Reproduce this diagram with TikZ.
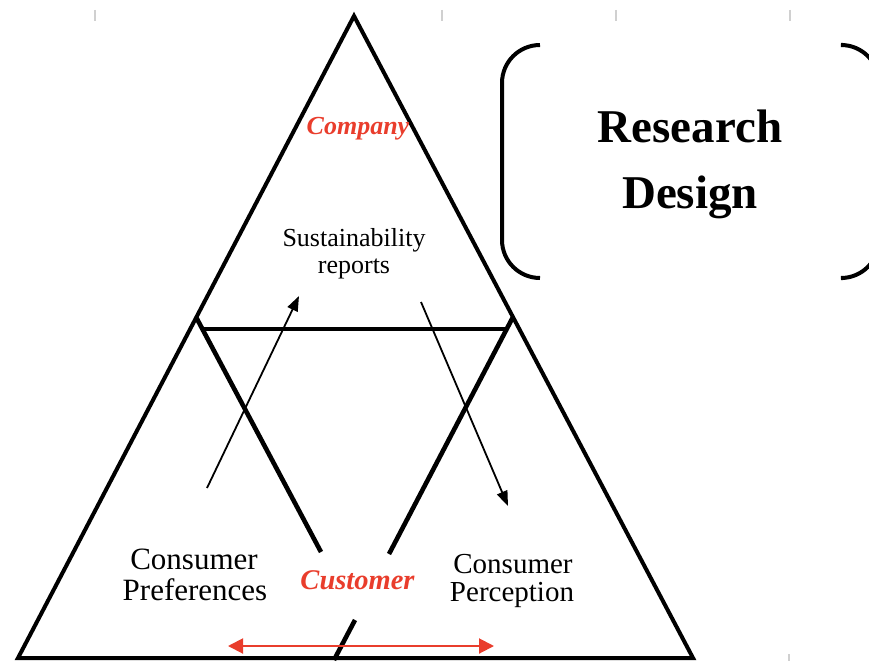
\documentclass[tikz,border=0pt]{standalone}
\usepackage{fontspec}
\setmainfont{Liberation Serif}
\usetikzlibrary{arrows.meta}
\definecolor{accent}{RGB}{233,61,44}
\definecolor{tickgray}{RGB}{208,208,208}
\begin{document}
\begin{tikzpicture}[x=1pt,y=-1pt,
  outer/.style={line width=4pt, line join=miter},
  inner/.style={line width=4.6pt},
  flow/.style={line width=1.8pt, -{Triangle[length=15pt,width=11pt]}},
  both/.style={draw=accent, line width=2pt, {Triangle[length=15pt,width=15pt]}-{Triangle[length=15pt,width=15pt]}},
  bracketline/.style={line width=4pt, rounded corners=38pt},
  tick/.style={draw=tickgray, line width=1.3pt},
  lbl/.style={inner sep=0pt, anchor=base},
  redlbl/.style={lbl, text=accent, font=\bfseries\itshape\fontsize{#1}{#1}\selectfont},
  plain/.style={lbl, font=\fontsize{#1}{#1}\selectfont},
  head/.style={lbl, font=\bfseries\fontsize{47}{47}\selectfont}]
\useasboundingbox (0,0) rectangle (869,661);
\clip (0,0) rectangle (869,661);
% ticks
\foreach \tx in {95,442,616,790} {\draw[tick] (\tx,10) -- (\tx,21);}
\draw[tick] (789,654) -- (789,661);
% outer triangle
\coordinate (apex) at (354,16);
\coordinate (bl) at (18,658);
\coordinate (br) at (693,658);
\draw[outer] (apex) -- (bl) -- (br) -- cycle;
% inner lines
\coordinate (L) at (196,317);
\coordinate (R) at (513,317);
\coordinate (Lend) at (321,552);
\coordinate (Rend) at (389,554);
\coordinate (Rlow) at (355,620);
\coordinate (Rbot) at (334,660);
\coordinate (hl) at (201,329);
\coordinate (hr) at (507,329);
\draw[inner] (L) -- (Lend);
\draw[inner] (R) -- (Rend);
\draw[inner] (Rlow) -- (Rbot);
\draw[inner] (hl) -- (hr);
% bracket
\draw[bracketline] (540,45) -- (502,45) -- (502,278) -- (540,278);
\draw[bracketline] (843,45) -- (879,45) -- (879,278) -- (843,278);
% texts
\node[redlbl=26] (company) at (358,134) {Company};
\node[plain=26] (sus1) at (354,246) {Sustainability};
\node[plain=26] (sus2) at (354,273) {reports};
\node[redlbl=28.5] (customer) at (357.5,589) {Customer};
\node[plain=31] (pref1) at (194,569) {Consumer};
\node[plain=31] (pref2) at (195,600) {Preferences};
\node[plain=29] (perc1) at (513,573) {Consumer};
\node[plain=29] (perc2) at (512,601) {Perception};
\node[head] (rd1) at (690,142) {Research};
\node[head] (rd2) at (690,208) {Design};
% arrows
\coordinate (upt) at (207,488);
\coordinate (uph) at (299,296);
\coordinate (dnt) at (421,302);
\coordinate (dnh) at (508,506);
\coordinate (rl) at (228,646);
\coordinate (rr) at (494,646);
\draw[flow] (upt) -- (uph);
\draw[flow] (dnt) -- (dnh);
\draw[both] (rl) -- (rr);
\end{tikzpicture}
\end{document}
